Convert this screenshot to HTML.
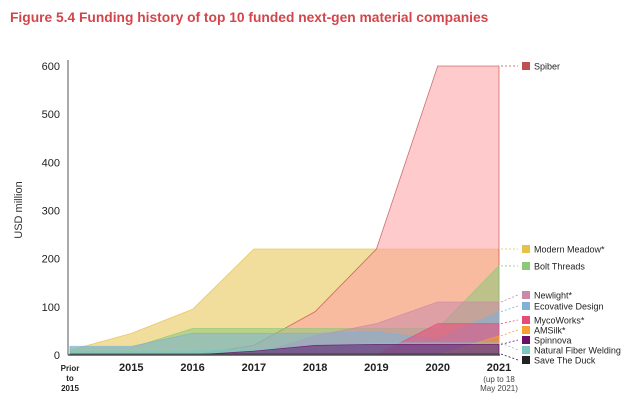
<!DOCTYPE html>
<html><head><meta charset="utf-8"><style>
body{margin:0;background:#fff;font-family:"Liberation Sans",sans-serif}
svg{display:block}
</style></head><body>
<svg id="c" width="641" height="402">
<text x="10" y="22" fill="#d2464b" font-size="13.8" font-weight="bold">Figure 5.4 Funding history of top 10 funded next-gen material companies</text>
<text transform="translate(22,210) rotate(-90)" text-anchor="middle" font-size="11" fill="#333">USD million</text>
<g id="g"></g>
</svg>
<script>
const years = ["Prior to 2015","2015","2016","2017","2018","2019","2020","2021"];
const yTicks = [0,100,200,300,400,500,600];
const names = ["Spiber","Modern Meadow*","Bolt Threads","Newlight*","Ecovative Design","MycoWorks*","AMSilk*","Spinnova","Natural Fiber Welding","Save The Duck"];
const colors = ["#ff9fa2","#e6c24a","#8cc878","#c98aa8","#7fb2d6","#e84a7a","#f5a030","#6a0f6a","#7ac8c0","#222222"];
const strokes = ["#c0504d","#e6c24a","#8cc878","#c98aa8","#7fb2d6","#e84a7a","#f5a030","#6a0f6a","#7ac8c0","#222222"];
const spiber = [0,0,0,20,90,220,600,600];
const modernMeadow = [10,45,95,220,220,220,220,220];
const bolt = [15,15,55,55,55,55,55,185];
const newlight = [0,0,0,0,40,65,110,110];
const ecovative = [18,18,45,45,45,48,32,90];
const mycoworks = [0,0,0,0,0,0,65,65];
const amsilk = [0,0,0,0,0,0,0,40];
const spinnova = [0,0,0,8,20,22,22,22];
const nfw = [8,8,8,12,15,25,25,25];
const saveDuck = [2,2,2,2,2,2,2,2];
const series = [spiber,modernMeadow,bolt,newlight,ecovative,mycoworks,amsilk,spinnova,nfw,saveDuck];
const legendY = [66,249,266,295,306,320,330,340,350,360];
const ns="http://www.w3.org/2000/svg";
const g=document.getElementById('g');
const x0=70,x1=499,yb=355,yt=66;
const X=i=>x0+i*(x1-x0)/(years.length-1);
const Y=v=>yb-(v/600)*(yb-yt);
function el(t,a,p){const e=document.createElementNS(ns,t);for(const k in a)e.setAttribute(k,a[k]);(p||g).appendChild(e);return e;}
yTicks.forEach(v=>{const t=el('text',{x:60,y:Y(v)+4,'text-anchor':'end','font-size':11,fill:'#222'});t.textContent=v;

});
const drawOrder=[1,0,2,3,4,5,6,8,7,9];
drawOrder.forEach(si=>{const d=series[si];let p=`M${X(0)},${Y(0)}`;d.forEach((v,i)=>p+=` L${X(i)},${Y(v)}`);p+=` L${X(d.length-1)},${Y(0)} Z`;
const a=el('path',{d:p,fill:colors[si],'fill-opacity':si==7||si==9?0.55:0.55,stroke:strokes[si],'stroke-opacity':0.8,'stroke-width':0.8});

});
el('line',{x1:68,y1:60,x2:68,y2:355,stroke:'#555','stroke-width':1});
el('line',{x1:68,y1:355,x2:500,y2:355,stroke:'#555','stroke-width':1.5});
years.forEach((y,i)=>{
 if(i==0){['Prior','to','2015'].forEach((s,j)=>{const t=el('text',{x:X(0),y:371+j*10,'text-anchor':'middle','font-size':8,'font-weight':'bold',fill:'#222'});t.textContent=s;
 
 });}
 else{const t=el('text',{x:X(i),y:371,'text-anchor':'middle','font-size':11,'font-weight':'bold',fill:'#222'});t.textContent=y;
 
 }
});
['(up to 18','May 2021)'].forEach((s,j)=>{const t=el('text',{x:X(7),y:382+j*9,'text-anchor':'middle','font-size':8,fill:'#444'});t.textContent=s;

});
series.forEach((d,si)=>{
 const ly=legendY[si];
 el('line',{x1:501,y1:Y(d[d.length-1]),x2:518,y2:ly,stroke:strokes[si],'stroke-dasharray':'2,2','stroke-width':0.8});
 const r=el('rect',{x:522,y:ly-4,width:8,height:8,fill:si==0?'#c0504d':colors[si]});
 
 
 const t=el('text',{x:534,y:ly+3.5,'font-size':9,fill:'#222'});t.textContent=names[si];
 
 
});
</script>
</body></html>
